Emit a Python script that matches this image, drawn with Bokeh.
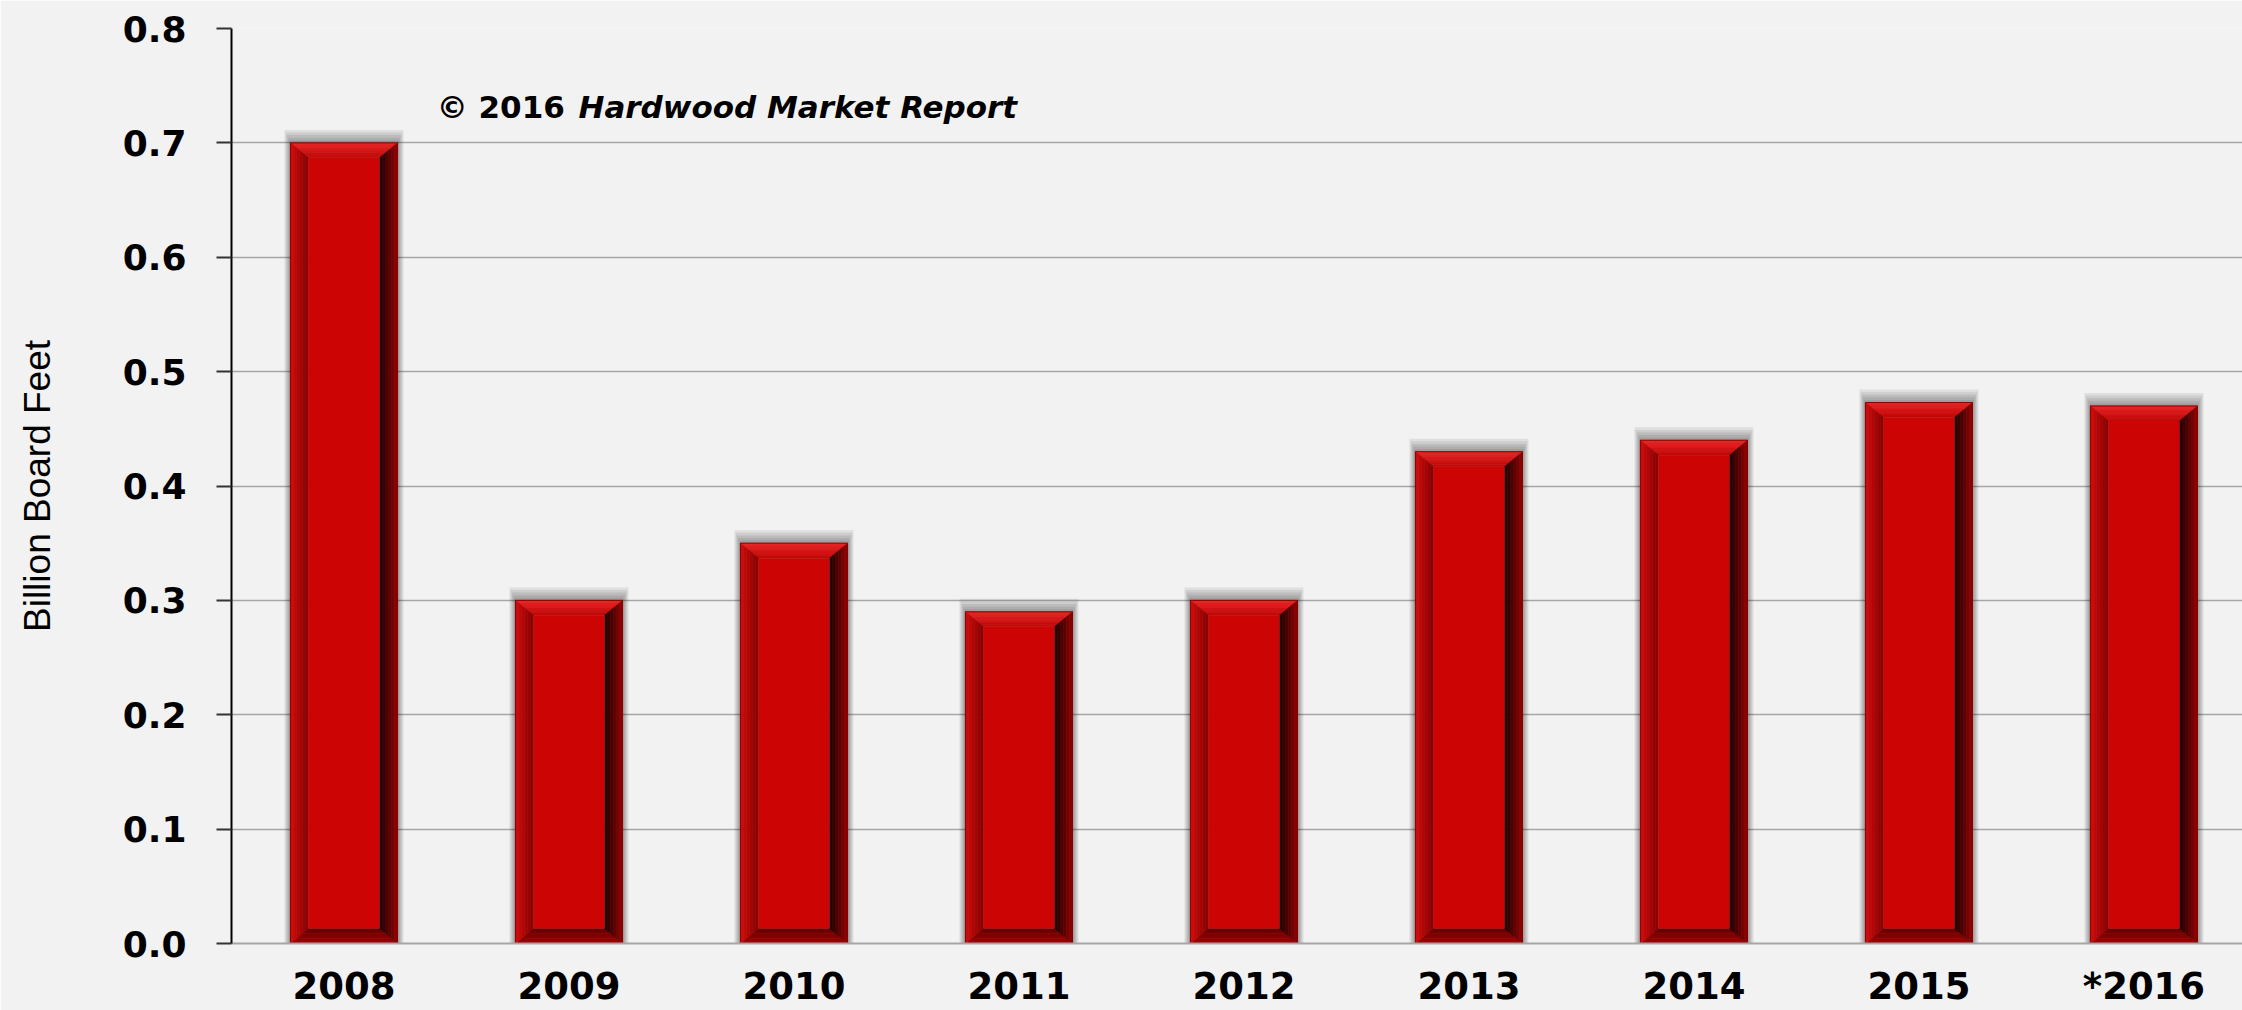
from bokeh.plotting import figure
from bokeh.models import Range1d, FixedTicker, Label
from bokeh.embed import file_html
from bokeh.resources import INLINE

years = ["2008", "2009", "2010", "2011", "2012", "2013", "2014", "2015", "*2016"]
values = [0.70, 0.30, 0.35, 0.29, 0.30, 0.43, 0.44, 0.473, 0.470]
y_ticks = [0.0, 0.1, 0.2, 0.3, 0.4, 0.5, 0.6, 0.7, 0.8]
y_tick_labels = ["0.0", "0.1", "0.2", "0.3", "0.4", "0.5", "0.6", "0.7", "0.8"]
y_title = "Billion Board Feet"
copyright_a = "\u00a9 2016 "
copyright_b = "Hardwood Market Report"

W, H = 2242, 1010
p = figure(width=W, height=H, output_backend="svg", toolbar_location=None,
           x_range=Range1d(-0.5, 8.438), y_range=Range1d(0, 0.8),
           min_border_left=231, min_border_right=0, min_border_top=28, min_border_bottom=50)
p.background_fill_color = "#F2F2F2"
p.border_fill_color = "#F2F2F2"
p.outline_line_color = None

# scale helpers
px_x = 1.0 / 225.0          # data units per pixel in x
px_y = 0.1 / 114.8          # data units per pixel in y
hw = 0.238                  # half bar width
dx = 18 * px_x              # side bevel depth
dy = 15 * px_y              # top/bottom bevel depth

xs = list(range(len(years)))

# soft shadow (mostly above the bar)
for k in range(1, 6):
    p.quad(left=[i - hw - 1.2 * k * px_x for i in xs],
           right=[i + hw + 1.2 * k * px_x for i in xs],
           bottom=[0] * len(xs),
           top=[v + 2.6 * k * px_y for v in values],
           fill_color="black", fill_alpha=0.08, line_color=None)

def lerp(c1, c2, t):
    a = [int(c1[i:i + 2], 16) for i in (1, 3, 5)]
    b = [int(c2[i:i + 2], 16) for i in (1, 3, 5)]
    return "#%02x%02x%02x" % tuple(int(round(a[j] + (b[j] - a[j]) * t)) for j in range(3))

bevels = {
    "top": ("#EC2626", "#C00606"),
    "bottom": ("#A40000", "#640000"),
    "left": ("#D40C0C", "#840000"),
    "right": ("#980000", "#1A0000"),
}
N = 6
for side, (c_out, c_in) in bevels.items():
    for s in range(N):
        t0, t1 = s / N, (s + 1) / N
        pxs, pys = [], []
        for i, v in zip(xs, values):
            x0, x1 = i - hw, i + hw
            if side == "top":
                pxs.append([x0 + t0 * dx, x1 - t0 * dx, x1 - t1 * dx, x0 + t1 * dx])
                pys.append([v - t0 * dy, v - t0 * dy, v - t1 * dy, v - t1 * dy])
            elif side == "bottom":
                pxs.append([x0 + t0 * dx, x1 - t0 * dx, x1 - t1 * dx, x0 + t1 * dx])
                pys.append([t0 * dy, t0 * dy, t1 * dy, t1 * dy])
            elif side == "left":
                pxs.append([x0 + t0 * dx, x0 + t0 * dx, x0 + t1 * dx, x0 + t1 * dx])
                pys.append([t0 * dy, v - t0 * dy, v - t1 * dy, t1 * dy])
            else:
                pxs.append([x1 - t0 * dx, x1 - t0 * dx, x1 - t1 * dx, x1 - t1 * dx])
                pys.append([t0 * dy, v - t0 * dy, v - t1 * dy, t1 * dy])
        col = lerp(c_out, c_in, (s + 0.5) / N)
        p.patches(xs=pxs, ys=pys, fill_color=col, line_color=col, line_width=0.5)

# face
p.quad(left=[i - hw + dx for i in xs], right=[i + hw - dx for i in xs],
       bottom=[dy] * len(xs), top=[v - dy for v in values],
       fill_color="#CC0404", line_color=None)
# outline
p.quad(left=[i - hw for i in xs], right=[i + hw for i in xs],
       bottom=[0] * len(xs), top=values,
       fill_color=None, line_color="#8A0000", line_width=1)

# axes
p.yaxis.ticker = FixedTicker(ticks=y_ticks)
p.yaxis.major_label_overrides = {t: l for t, l in zip(y_ticks, y_tick_labels)}
p.yaxis.major_label_text_font = "DejaVu Sans"
p.yaxis.major_label_text_font_style = "bold"
p.yaxis.major_label_text_font_size = "36px"
p.yaxis.major_label_text_color = "black"
p.yaxis.major_label_standoff = 30
p.yaxis.major_tick_out = 15
p.yaxis.major_tick_in = 0
p.yaxis.major_tick_line_width = 2
p.yaxis.major_tick_line_color = "#333333"
p.yaxis.minor_tick_line_color = None
p.yaxis.axis_line_color = "black"
p.yaxis.axis_line_width = 2
p.yaxis.axis_label = y_title
p.yaxis.axis_label_text_font = "Liberation Sans"
p.yaxis.axis_label_text_font_style = "normal"
p.yaxis.axis_label_text_font_size = "37px"
p.yaxis.axis_label_text_color = "black"
p.yaxis.axis_label_standoff = 62

p.xaxis.ticker = FixedTicker(ticks=xs)
p.xaxis.major_label_overrides = {i: y for i, y in zip(xs, years)}
p.xaxis.major_label_text_font = "DejaVu Sans"
p.xaxis.major_label_text_font_style = "bold"
p.xaxis.major_label_text_font_size = "37px"
p.xaxis.major_label_text_color = "black"
p.xaxis.major_label_standoff = 21
p.xaxis.major_tick_out = 0
p.xaxis.major_tick_in = 0
p.xaxis.minor_tick_line_color = None
p.xaxis.axis_line_color = "#A6A6A6"
p.xaxis.axis_line_width = 2

p.xgrid.grid_line_color = None
p.ygrid.ticker = FixedTicker(ticks=y_ticks)
p.ygrid.grid_line_color = "#A6A6A6"
p.ygrid.grid_line_width = 1.5
p.ygrid.level = "underlay"

# copyright note
p.add_layout(Label(x=0.412, y=0.7311, text=copyright_a, text_font="DejaVu Sans",
                   text_font_style="bold", text_font_size="31px", text_color="black",
                   text_baseline="alphabetic"))
p.add_layout(Label(x=1.042, y=0.7311, text=copyright_b, text_font="DejaVu Sans",
                   text_font_style="bold italic", text_font_size="31px", text_color="black",
                   text_baseline="alphabetic"))

open("out.html", "w").write(file_html(p, INLINE))
